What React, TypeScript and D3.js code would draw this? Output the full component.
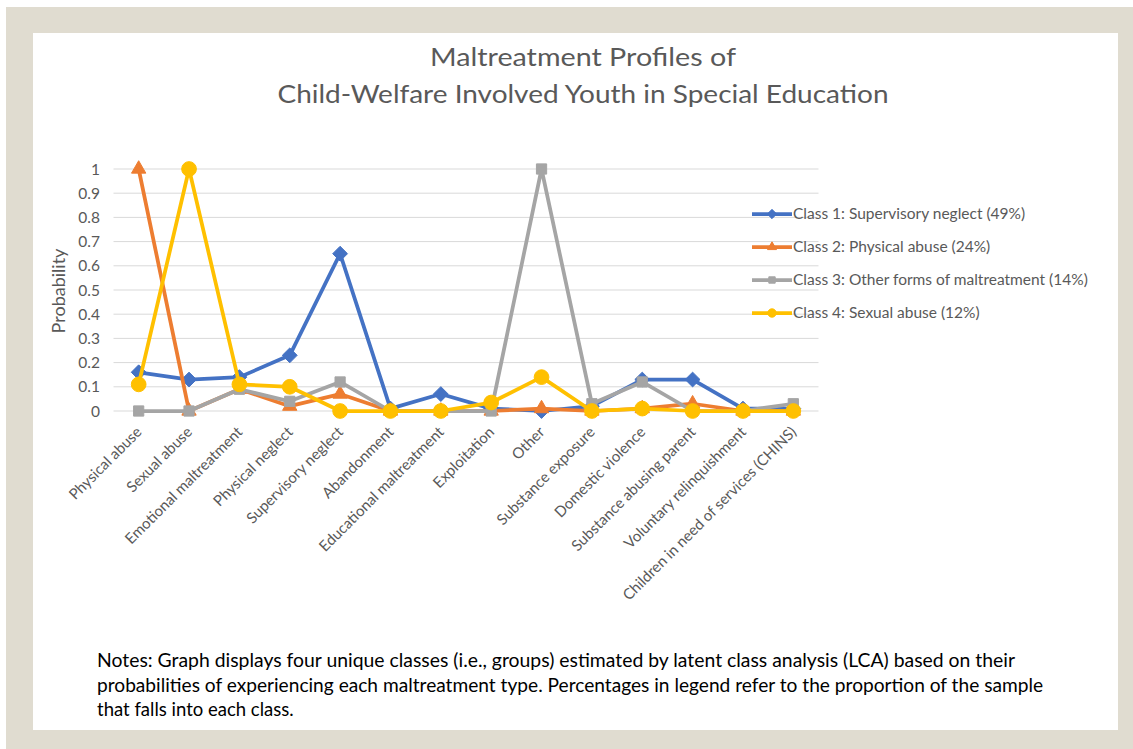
import React from "react";
import * as d3 from "d3";

const categories = [
  "Physical abuse",
  "Sexual abuse",
  "Emotional maltreatment",
  "Physical neglect",
  "Supervisory neglect",
  "Abandonment",
  "Educational maltreatment",
  "Exploitation",
  "Other",
  "Substance exposure",
  "Domestic violence",
  "Substance abusing parent",
  "Voluntary relinquishment",
  "Children in need of services (CHINS)",
];

const class1 = [0.16, 0.13, 0.14, 0.23, 0.65, 0.01, 0.07, 0.01, 0.0, 0.02, 0.13, 0.13, 0.01, 0.01];
const class2 = [1.0, 0.0, 0.09, 0.02, 0.07, 0.0, 0.0, 0.0, 0.01, 0.0, 0.01, 0.03, 0.0, 0.0];
const class3 = [0.0, 0.0, 0.09, 0.04, 0.12, 0.0, 0.0, 0.0, 1.0, 0.03, 0.12, 0.0, 0.0, 0.03];
const class4 = [0.11, 1.0, 0.11, 0.1, 0.0, 0.0, 0.0, 0.035, 0.14, 0.0, 0.01, 0.0, 0.0, 0.0];

const seriesNames = [
  "Class 1: Supervisory neglect (49%)",
  "Class 2: Physical abuse (24%)",
  "Class 3: Other forms of maltreatment (14%)",
  "Class 4: Sexual abuse (12%)",
];
const seriesColors = ["#4472C4", "#ED7D31", "#A5A5A5", "#FFC000"];
const seriesMarkers = ["diamond", "triangle", "square", "circle"];
const yTicks = [0, 0.1, 0.2, 0.3, 0.4, 0.5, 0.6, 0.7, 0.8, 0.9, 1];

const titleLines = ["Maltreatment Profiles of", "Child-Welfare Involved Youth in Special Education"];
const noteLines = [
  "Notes: Graph displays four unique classes (i.e., groups) estimated by latent class analysis (LCA) based on their",
  "probabilities of experiencing each maltreatment type. Percentages in legend refer to the proportion of the sample",
  "that falls into each class.",
];

const FONT = "Lato, 'Open Sans', sans-serif";

function Marker({ type, x, y, color, size }: { type: string; x: number; y: number; color: string; size: number }) {
  const symType =
    type === "diamond"
      ? d3.symbolDiamond2
      : type === "triangle"
      ? d3.symbolTriangle2
      : type === "square"
      ? d3.symbolSquare2
      : d3.symbolCircle;
  const scale = type === "diamond" ? 1.0 : type === "triangle" ? 1.05 : type === "square" ? 0.95 : 1.0;
  const path = d3.symbol().type(symType).size(size * scale)();
  return <path d={path || ""} transform={`translate(${x},${y})`} fill={color} stroke={color} strokeWidth={1} />;
}

export default function App() {
  const W = 1133;
  const H = 749;
  const x = d3.scaleBand<string>().domain(categories).range([113.5, 818.5]);
  const y = d3.scaleLinear().domain([0, 1]).range([411, 169]);
  const all = [class1, class2, class3, class4];
  const line = d3
    .line<number>()
    .x((_, i) => (x(categories[i]) as number) + x.bandwidth() / 2)
    .y((d) => y(d));

  const legendY = [214, 247, 280, 313];
  const titleY = [66, 103];
  const titleLen = [306, 611];
  const noteLen = [918, 946, 0];

  return (
    <svg width={W} height={H} style={{ display: "block", position: "absolute", left: 0, top: 0 }}>
      <rect x={0} y={0} width={W} height={H} fill="#ffffff" />
      <rect x={6} y={7} width={W - 6} height={H - 7} fill="#E0DCD0" />
      <rect x={33} y={33} width={1085} height={697} fill="#ffffff" />

      {titleLines.map((t, i) => (
        <text
          key={t}
          x={583}
          y={titleY[i]}
          textAnchor="middle"
          fontFamily={FONT}
          fontSize={25}
          textLength={titleLen[i]}
          lengthAdjust="spacingAndGlyphs"
          fill="#595959"
        >
          {t}
        </text>
      ))}

      {yTicks.map((t) => (
        <g key={t}>
          <line x1={113.5} x2={818.5} y1={y(t)} y2={y(t)} stroke="#D9D9D9" strokeWidth={1} />
          <text
            x={100}
            y={y(t) + 5.5}
            textAnchor="end"
            fontFamily={FONT}
            fontSize={15.5}
            fill="#595959"
          >
            {d3.format("")(t)}
          </text>
        </g>
      ))}

      <text
        transform={`translate(65,291) rotate(-90)`}
        textAnchor="middle"
        fontFamily={FONT}
        fontSize={18}
        fill="#595959"
      >
        Probability
      </text>

      {categories.map((c) => {
        const cx = (x(c) as number) + x.bandwidth() / 2;
        return (
          <text
            key={c}
            transform={`translate(${cx + 4},${433}) rotate(-45)`}
            textAnchor="end"
            fontFamily={FONT}
            fontSize={15}
            fill="#595959"
          >
            {c}
          </text>
        );
      })}

      {all.map((s, si) => (
        <g key={si}>
          <path d={line(s) || ""} fill="none" stroke={seriesColors[si]} strokeWidth={3.75} strokeLinejoin="round" />
          {s.map((v, i) => (
            <Marker
              key={i}
              type={seriesMarkers[si]}
              x={(x(categories[i]) as number) + x.bandwidth() / 2}
              y={y(v)}
              color={seriesColors[si]}
              size={seriesMarkers[si] === "circle" ? 170 : 140}
            />
          ))}
        </g>
      ))}

      {seriesNames.map((n, i) => (
        <g key={n}>
          <line x1={752} x2={792} y1={legendY[i]} y2={legendY[i]} stroke={seriesColors[i]} strokeWidth={3.75} />
          <Marker type={seriesMarkers[i]} x={772} y={legendY[i]} color={seriesColors[i]} size={55} />
          <text x={793} y={legendY[i] + 5} fontFamily={FONT} fontSize={15.5} fill="#595959">
            {n}
          </text>
        </g>
      ))}

      {noteLines.map((t, i) => (
        <text
          key={i}
          x={97}
          y={667 + i * 24.5}
          fontFamily={FONT}
          fontSize={18.5}
          fill="#000000"
          {...(noteLen[i] ? { textLength: noteLen[i], lengthAdjust: "spacingAndGlyphs" } : {})}
        >
          {t}
        </text>
      ))}
    </svg>
  );
}
